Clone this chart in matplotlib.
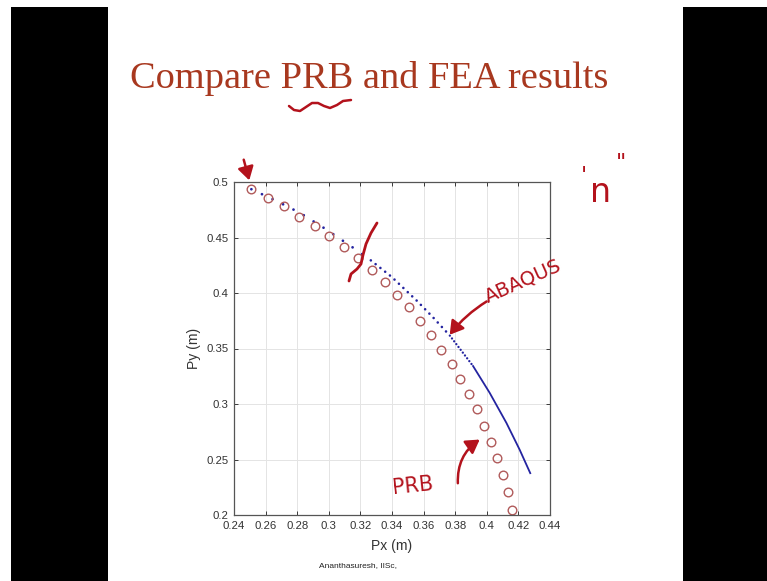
import matplotlib
matplotlib.use("Agg")
import matplotlib.pyplot as plt
from matplotlib.patches import Rectangle, FancyArrowPatch
from matplotlib.ticker import FuncFormatter

# ---------------- data ----------------
prb_px = [0.2510, 0.2613, 0.2717, 0.2811, 0.2910, 0.3000, 0.3095, 0.3184, 0.3272,
          0.3354, 0.3429, 0.3509, 0.3577, 0.3646, 0.3709, 0.3777, 0.3831, 0.3886,
          0.3938, 0.3985, 0.4025, 0.4062, 0.4100, 0.4132, 0.4161]
prb_py = [0.4935, 0.4858, 0.4780, 0.4686, 0.4600, 0.4510, 0.4418, 0.4313, 0.4204,
          0.4102, 0.3986, 0.3870, 0.3749, 0.3626, 0.3490, 0.3360, 0.3228, 0.3092,
          0.2953, 0.2803, 0.2661, 0.2514, 0.2357, 0.2206, 0.2046]

abaqus_px = [0.2510, 0.2683, 0.2820, 0.2988, 0.3162, 0.3266, 0.3398, 0.3556,
             0.3660, 0.3766, 0.3913, 0.4018, 0.4124, 0.4208, 0.4275]
abaqus_py = [0.4935, 0.4819, 0.4720, 0.4569, 0.4400, 0.4294, 0.4145, 0.3932,
             0.3780, 0.3616, 0.3342, 0.3101, 0.2830, 0.2588, 0.2377]

x_ticks = [0.24, 0.26, 0.28, 0.30, 0.32, 0.34, 0.36, 0.38, 0.40, 0.42, 0.44]
y_ticks = [0.20, 0.25, 0.30, 0.35, 0.40, 0.45, 0.50]

title_text = "Compare PRB and FEA results"
xlabel_text = "Px (m)"
ylabel_text = "Py (m)"
footer_text = "Ananthasuresh, IISc,"

# ---------------- figure ----------------
W, H = 767, 581
fig = plt.figure(figsize=(W / 100, H / 100), dpi=100, facecolor="white")


def P(x, y):
    """pixel (from top-left) -> figure fraction"""
    return (x / W, 1 - y / H)


# black side bars of the video frame
for (x0, x1) in [(11, 108), (683, 767)]:
    fig.patches.append(Rectangle(P(x0, 581), (x1 - x0) / W, (581 - 7) / H,
                                 transform=fig.transFigure, facecolor="black",
                                 edgecolor="none", zorder=0))

ink = "#b3121c"
tick_font = ["Liberation Sans", "DejaVu Sans"]

# title
fig.text(*P(130, 88), title_text, fontsize=27.6, family=["Liberation Serif", "DejaVu Serif"],
         color="#a8381f", ha="left", va="baseline")

# axes
ax = fig.add_axes([234 / W, 1 - 515 / H, (550 - 234) / W, (515 - 182) / H])
ax.set_xlim(0.24, 0.44)
ax.set_ylim(0.2, 0.5)
ax.set_xticks(x_ticks)
ax.set_yticks(y_ticks)
fmt = FuncFormatter(lambda v, p: ("%g" % round(v, 4)))
ax.xaxis.set_major_formatter(fmt)
ax.yaxis.set_major_formatter(fmt)
ax.grid(True, color="#e4e4e4", linewidth=0.7)
ax.set_axisbelow(True)
ax.tick_params(direction="in", length=3, width=0.7, colors="#3a3a3a",
               top=True, right=True, labelsize=8.2, pad=4)
for lab in ax.get_xticklabels() + ax.get_yticklabels():
    lab.set_family(tick_font)
    lab.set_color("#333333")
for s in ax.spines.values():
    s.set_color("#555555")
    s.set_linewidth(0.9)

# ABAQUS curve: sparse dots, denser dots, then solid
blue = "#2424a0"
ax.plot(abaqus_px[:6], abaqus_py[:6], color=blue, lw=2.0,
        linestyle=(0, (0.01, 4.2)), dash_capstyle="round")
ax.plot(abaqus_px[5:10], abaqus_py[5:10], color=blue, lw=1.9,
        linestyle=(0, (0.01, 2.3)), dash_capstyle="round")
ax.plot(abaqus_px[9:11], abaqus_py[9:11], color=blue, lw=1.7,
        linestyle=(0, (0.01, 1.5)), dash_capstyle="round")
ax.plot(abaqus_px[10:], abaqus_py[10:], color=blue, lw=1.3, linestyle="-")

# PRB circles
ax.plot(prb_px, prb_py, linestyle="none", marker="o", markersize=6.2,
        markerfacecolor="none", markeredgecolor="#b05a5a", markeredgewidth=1.0)

ax.set_xlabel(xlabel_text, family=tick_font, fontsize=10, color="#333333", labelpad=6)
ax.set_ylabel(ylabel_text, family=tick_font, fontsize=10, color="#333333", labelpad=4)

# footer
fig.text(*P(358, 566), footer_text, fontsize=6, family=tick_font, color="#222222",
         ha="center", va="center")

# ---------------- handwritten annotations ----------------
hand = ["DejaVu Sans"]


def stroke(pts, lw=1.8):
    xs = [p[0] / W for p in pts]
    ys = [1 - p[1] / H for p in pts]
    fig.add_artist(plt.Line2D(xs, ys, transform=fig.transFigure, color=ink, lw=lw,
                              solid_capstyle="round", solid_joinstyle="round"))


def arrow(p0, p1, rad=0.0):
    fig.add_artist(FancyArrowPatch(P(*p0), P(*p1), transform=fig.transFigure,
                                   arrowstyle="-|>,head_length=5,head_width=3",
                                   connectionstyle="arc3,rad=%g" % rad,
                                   color=ink, lw=1.8, mutation_scale=1.6))

# squiggle under PRB in the title
stroke([(289, 106), (294, 110), (300, 111), (306, 107), (312, 103), (318, 103),
        (324, 106), (330, 108), (337, 105), (343, 101), (351, 100)])
# arrow at the first point
arrow((243, 157), (250, 183))
# bracket-like stroke
stroke([(349, 281), (351, 274), (357, 269), (361, 264), (363, 255), (366, 244),
        (371, 233), (377, 223)], lw=2.0)
# ABAQUS label + arrow
fig.text(*P(523, 281), "ABAQUS", fontsize=14, family=hand, color=ink,
         rotation=24, ha="center", va="center")
arrow((489, 300), (448, 337), rad=0.1)
# PRB label + arrow
fig.text(*P(413, 486), "PRB", fontsize=15, family=hand, color=ink,
         rotation=6, ha="center", va="center")
arrow((458, 486), (482, 438), rad=-0.3)
# "n" with quote marks
fig.text(*P(601, 192), "n", fontsize=24, family=hand, color=ink,
         ha="center", va="center")
fig.text(*P(584, 176), "'", fontsize=16, family=hand, color=ink,
         ha="center", va="center")
fig.text(*P(621, 163), "\"", fontsize=16, family=hand, color=ink,
         ha="center", va="center")

fig.savefig("out.png", dpi=100, facecolor="white")
